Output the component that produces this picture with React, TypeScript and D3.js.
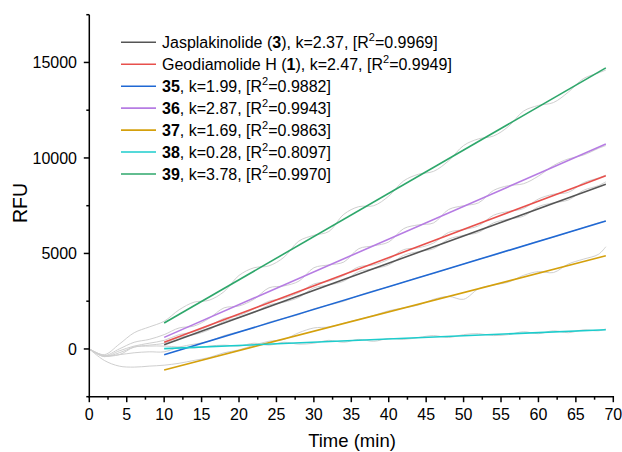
import React from "react";
import * as d3 from "d3";

const times = [0, 2, 4, 6, 8, 10, 12, 14, 16, 18, 20, 22, 24, 26, 28, 30, 32, 34, 36, 38, 40, 42, 44, 46, 48, 50, 52, 54, 56, 58, 60, 62, 64, 66, 68, 69];

const rawJasp = [0, -400, -200, 100, 200, 300, 600, 750, 1000, 1450, 1650, 1900, 2300, 2450, 2700, 3200, 3350, 3550, 4050, 4200, 4400, 4900, 5100, 5250, 5750, 5950, 6100, 6600, 6800, 6950, 7450, 7650, 7800, 8300, 8550, 8750];
const rawGeo = [0, -400, -100, 150, 300, 450, 750, 900, 1200, 1600, 1750, 2100, 2500, 2650, 2950, 3400, 3550, 3850, 4300, 4400, 4700, 5200, 5300, 5550, 6100, 6250, 6450, 7000, 7200, 7350, 7850, 8100, 8200, 8700, 8950, 9100];
const raw35 = [0, -350, -300, -200, -150, -150, 100, 250, 400, 700, 900, 1100, 1400, 1600, 1800, 2100, 2300, 2500, 2800, 3050, 3250, 3500, 3750, 3950, 4200, 4450, 4700, 4900, 5150, 5400, 5650, 5850, 6100, 6350, 6600, 6700];
const raw36 = [0, -350, 0, 350, 500, 750, 1100, 1200, 1600, 2150, 2250, 2600, 3200, 3300, 3550, 4250, 4400, 4550, 5250, 5400, 5600, 6300, 6500, 6600, 7300, 7500, 7650, 8300, 8550, 8650, 9050, 9600, 9950, 10150, 10500, 10650];
const raw37 = [0, -600, -900, -950, -900, -850, -750, -600, -450, -200, -50, 200, 400, 500, 850, 1100, 1150, 1350, 1550, 1750, 2000, 2150, 2300, 2600, 2750, 2600, 3150, 3350, 3500, 3850, 4050, 4000, 4450, 4700, 4950, 5350];
const raw38 = [0, -350, -300, 100, 150, 150, 100, 50, 150, 200, 150, 300, 200, 350, 250, 300, 450, 350, 500, 400, 550, 500, 600, 700, 600, 750, 800, 700, 750, 900, 800, 950, 850, 1000, 950, 1050];
const raw39 = [0, -300, 250, 850, 1150, 1450, 2050, 2450, 2550, 3000, 3850, 4250, 4350, 4800, 5650, 5950, 6150, 7050, 7450, 7500, 8000, 8800, 9150, 9300, 9850, 10650, 11000, 11150, 11650, 12450, 12750, 12900, 13450, 14150, 14450, 14600];

const fitTimes = [10, 69];
const fitJasp = [225, 8620];
const fitGeo = [345, 9070];
const fit35 = [-300, 6703];
const fit36 = [606, 10726];
const fit37 = [-1097, 4875];
const fit38 = [16, 1008];
const fit39 = [1358, 14713];

const xTicks = [0, 5, 10, 15, 20, 25, 30, 35, 40, 45, 50, 55, 60, 65, 70];
const yTicks = [0, 5000, 10000, 15000];

type LegendPart = { text: string; bold?: boolean; sup?: boolean };
const legendItems: { color: string; parts: LegendPart[] }[] = [
  { color: "#555555", parts: [{ text: "Jasplakinolide (" }, { text: "3", bold: true }, { text: "), k=2.37, [R" }, { text: "2", sup: true }, { text: "=0.9969]" }] },
  { color: "#e8504c", parts: [{ text: "Geodiamolide H (" }, { text: "1", bold: true }, { text: "), k=2.47, [R" }, { text: "2", sup: true }, { text: "=0.9949]" }] },
  { color: "#1f68d4", parts: [{ text: "35", bold: true }, { text: ", k=1.99, [R" }, { text: "2", sup: true }, { text: "=0.9882]" }] },
  { color: "#b67ce3", parts: [{ text: "36", bold: true }, { text: ", k=2.87, [R" }, { text: "2", sup: true }, { text: "=0.9943]" }] },
  { color: "#d4a00c", parts: [{ text: "37", bold: true }, { text: ", k=1.69, [R" }, { text: "2", sup: true }, { text: "=0.9863]" }] },
  { color: "#1ccccc", parts: [{ text: "38", bold: true }, { text: ", k=0.28, [R" }, { text: "2", sup: true }, { text: "=0.8097]" }] },
  { color: "#2ea76b", parts: [{ text: "39", bold: true }, { text: ", k=3.78, [R" }, { text: "2", sup: true }, { text: "=0.9970]" }] },
];

const rawSeries = [rawJasp, rawGeo, raw35, raw36, raw37, raw38, raw39];
const fitSeries = [fitJasp, fitGeo, fit35, fit36, fit37, fit38, fit39];

const FONT = "'Liberation Sans', Arial, sans-serif";

export default function App() {
  const W = 622, H = 452;
  const x = d3.scaleLinear().domain([0, 70]).range([89.3, 613.3]);
  const y = d3.scaleLinear().domain([-2500, 17500]).range([396.7, 14.7]);
  const rawLine = d3.line<number>().x((_, i) => x(times[i])).y((d) => y(d)).curve(d3.curveCatmullRom);
  const fitLine = d3.line<number>().x((_, i) => x(fitTimes[i])).y((d) => y(d));
  const minorX = d3.range(0, 70.01, 2.5).filter((v) => v % 5 !== 0);
  const minorY = d3.range(-2500, 17501, 2500).filter((v) => v % 5000 !== 0);
  const x0 = x(0), yb = y(-2500);

  return (
    <svg width={W} height={H} style={{ position: "absolute", left: 0, top: 0, background: "#fff" }} fontFamily={FONT}>
      <rect width={W} height={H} fill="#fff" />
      {rawSeries.map((s, i) => (
        <path key={"r" + i} d={rawLine(s) || ""} fill="none" stroke="#cfcfcf" strokeWidth={1} />
      ))}
      {fitSeries.map((s, i) => (
        <path key={"f" + i} d={fitLine(s) || ""} fill="none" stroke={legendItems[i].color} strokeWidth={1.6} />
      ))}
      <line x1={x0} x2={x0} y1={y(17500)} y2={yb + 0.75} stroke="#000" strokeWidth={1.5} />
      <line x1={x0 - 0.75} x2={x(70) + 0.75} y1={yb} y2={yb} stroke="#000" strokeWidth={1.5} />
      {xTicks.map((t) => (
        <g key={"xt" + t}>
          <line x1={x(t)} x2={x(t)} y1={yb} y2={yb + 5.5} stroke="#000" strokeWidth={1.5} />
          <text x={x(t)} y={420} textAnchor="middle" fontSize={16}>{t}</text>
        </g>
      ))}
      {minorX.map((t) => (
        <line key={"xm" + t} x1={x(t)} x2={x(t)} y1={yb} y2={yb + 3} stroke="#000" strokeWidth={1.5} />
      ))}
      {yTicks.map((v) => (
        <g key={"yt" + v}>
          <line x1={x0 - 5.5} x2={x0} y1={y(v)} y2={y(v)} stroke="#000" strokeWidth={1.5} />
          <text x={77} y={y(v) + 5.7} textAnchor="end" fontSize={16}>{v}</text>
        </g>
      ))}
      {minorY.map((v) => (
        <line key={"ym" + v} x1={x0 - 3} x2={x0} y1={y(v)} y2={y(v)} stroke="#000" strokeWidth={1.5} />
      ))}
      <text x={352} y={447} textAnchor="middle" fontSize={18.5}>Time (min)</text>
      <text transform="translate(27,203) rotate(-90)" textAnchor="middle" fontSize={19.5}>RFU</text>
      {legendItems.map((it, i) => {
        const cy = 42.3 + i * 21.95;
        return (
          <g key={"lg" + i}>
            <line x1={121} x2={156} y1={cy} y2={cy} stroke={it.color} strokeWidth={1.6} />
            <text x={162} y={cy + 5.6} fontSize={16}>
              {it.parts.map((p, j) =>
                p.sup ? (
                  <tspan key={j} fontSize={11} dy={-6.5}>{p.text}</tspan>
                ) : (
                  <tspan key={j} fontWeight={p.bold ? "bold" : "normal"} dy={j > 0 && it.parts[j - 1].sup ? 6.5 : 0}>{p.text}</tspan>
                )
              )}
            </text>
          </g>
        );
      })}
    </svg>
  );
}
